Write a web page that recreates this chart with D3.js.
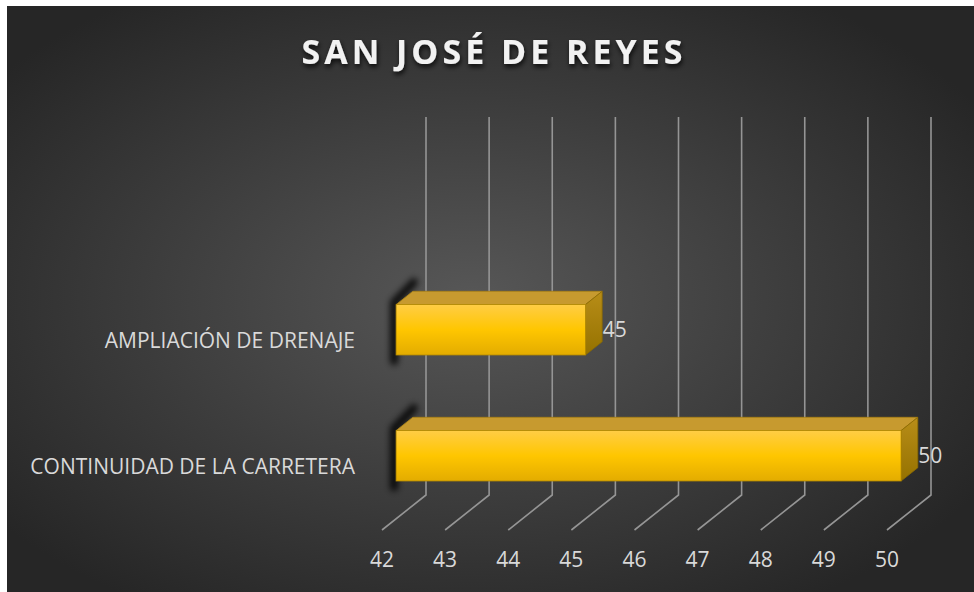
<!DOCTYPE html>
<html>
<head>
<meta charset="utf-8">
<script src="https://cdn.jsdelivr.net/npm/d3@7"></script>
<style>
  html, body { margin: 0; padding: 0; background: #fff; }
  svg { display: block; }
</style>
</head>
<body>
<script>
// chart data
var categories = ["AMPLIACIÓN DE DRENAJE", "CONTINUIDAD DE LA CARRETERA"];
var values = [45, 50];
var tickValues = [42, 43, 44, 45, 46, 47, 48, 49, 50];
var title = "SAN JOSÉ DE REYES";

var W = 974, H = 592;
var depthX = 44, depthY = -35;       // full floor depth offset
var barFront = 0.32, barBack = 0.7;  // bar position inside the depth

var svg = d3.select("body").append("svg")
  .attr("width", W)
  .attr("height", H);

var defs = svg.append("defs");

var bg = defs.append("radialGradient").attr("id", "bg")
  .attr("cx", "48%").attr("cy", "50%").attr("r", "62%");
bg.append("stop").attr("offset", "0%").attr("stop-color", "#575757");
bg.append("stop").attr("offset", "100%").attr("stop-color", "#262626");

var front = defs.append("linearGradient").attr("id", "front")
  .attr("x1", 0).attr("y1", 0).attr("x2", 0).attr("y2", 1);
front.append("stop").attr("offset", "0%").attr("stop-color", "#ffcd45");
front.append("stop").attr("offset", "50%").attr("stop-color", "#ffc600");
front.append("stop").attr("offset", "100%").attr("stop-color", "#e3ac00");

var side = defs.append("linearGradient").attr("id", "side")
  .attr("x1", 0).attr("y1", 0).attr("x2", 0).attr("y2", 1);
side.append("stop").attr("offset", "0%").attr("stop-color", "#b88d18");
side.append("stop").attr("offset", "100%").attr("stop-color", "#957200");

defs.append("filter").attr("id", "blur")
  .attr("x", "-100%").attr("y", "-50%").attr("width", "300%").attr("height", "200%")
  .append("feGaussianBlur").attr("stdDeviation", 3);

var ts = defs.append("filter").attr("id", "tshadow")
  .attr("x", "-10%").attr("y", "-30%").attr("width", "120%").attr("height", "160%");
ts.append("feDropShadow").attr("dx", 1).attr("dy", 3).attr("stdDeviation", 2.5)
  .attr("flood-color", "#000").attr("flood-opacity", 0.8);

svg.append("rect")
  .attr("x", 7).attr("y", 6)
  .attr("width", W - 7).attr("height", H - 6)
  .attr("fill", "url(#bg)");

// scales (front plane of the floor)
var x = d3.scaleLinear().domain([42, 50]).range([382, 887]);
var y = d3.scaleBand().domain(categories).range([278, 530])
  .paddingInner(0.6).paddingOuter(0.3);
var floorY = 530, topY = 152;

// grid on back wall + floor diagonals
var grid = svg.append("g").attr("stroke", "#959595").attr("stroke-width", 1.6).attr("fill", "none");
grid.selectAll("path").data(tickValues).enter().append("path")
  .attr("d", function(d) {
    var bx = x(d) + depthX;
    return "M" + bx + "," + (topY + depthY) + "L" + bx + "," + (floorY + depthY) +
      "L" + x(d) + "," + floorY;
  });

// tick labels
svg.append("g").selectAll("text").data(tickValues).enter().append("text")
  .attr("x", function(d) { return x(d); })
  .attr("y", 560)
  .attr("dy", "0.35em")
  .attr("text-anchor", "middle")
  .attr("font-family", "Open Sans, sans-serif")
  .attr("font-size", 21)
  .attr("fill", "#d9d9d9")
  .text(function(d) { return d; });

// category labels
svg.append("g").selectAll("text").data(categories).enter().append("text")
  .attr("x", 355)
  .attr("y", function(d) { return y(d) + y.bandwidth() / 2; })
  .attr("dy", "0.35em")
  .attr("text-anchor", "end")
  .attr("font-family", "Open Sans, sans-serif")
  .attr("font-size", 21)
  .attr("fill", "#d9d9d9")
  .text(function(d) { return d; });

// 3D bars
var rows = categories.map(function(c, i) { return { cat: c, value: values[i] }; });
var bars = svg.append("g").selectAll("g").data(rows).enter().append("g");

function pt(px, py, d) { return [px + depthX * d, py + depthY * d]; }

bars.each(function(d) {
  var g = d3.select(this);
  var x0 = x(42), x1 = x(d.value);
  var y0 = y(d.cat), y1 = y0 + y.bandwidth();
  var fTL = pt(x0, y0, barFront), fBR = pt(x1, y1, barFront);
  var bTL = pt(x0, y0, barBack), bTR = pt(x1, y0, barBack), bBR = pt(x1, y1, barBack);
  var fTR = pt(x1, y0, barFront), fBL = pt(x0, y1, barFront);

  // shadow smudge along the left end
  g.append("path")
    .attr("d", d3.line()([[fBL[0] - 2, fBL[1] + 6], [fTL[0] - 2, fTL[1] - 2], [bTL[0] + 1, bTL[1] - 9]]))
    .attr("fill", "none").attr("stroke", "#000").attr("stroke-width", 8)
    .attr("stroke-linecap", "round").attr("opacity", 0.85).attr("filter", "url(#blur)");

  g.append("path") // top
    .attr("d", d3.line()([fTL, fTR, bTR, bTL]) + "Z")
    .attr("fill", "#c79a2f").attr("stroke", "#a98214").attr("stroke-width", 0.8);
  g.append("path") // side
    .attr("d", d3.line()([fTR, bTR, bBR, fBR]) + "Z")
    .attr("fill", "url(#side)").attr("stroke", "#8a6a00").attr("stroke-width", 0.8);
  g.append("rect") // front
    .attr("x", fTL[0]).attr("y", fTL[1])
    .attr("width", fBR[0] - fTL[0]).attr("height", fBR[1] - fTL[1])
    .attr("fill", "url(#front)").attr("stroke", "#b38a00").attr("stroke-width", 0.8);

  g.append("text")
    .attr("x", bTR[0] + 0.5)
    .attr("y", (fTL[1] + fBR[1]) / 2)
    .attr("dy", "0.35em")
    .attr("font-family", "Open Sans, sans-serif")
    .attr("font-size", 21)
    .attr("fill", "#d9d9d9")
    .text(d.value);
});

// title
svg.append("text")
  .attr("x", 494).attr("y", 52)
  .attr("dy", "0.35em")
  .attr("text-anchor", "middle")
  .attr("font-family", "Open Sans, sans-serif")
  .attr("font-weight", "bold")
  .attr("font-size", 34)
  .attr("letter-spacing", 4)
  .attr("fill", "#f2f2f2")
  .attr("filter", "url(#tshadow)")
  .text(title);
</script>
</body>
</html>
